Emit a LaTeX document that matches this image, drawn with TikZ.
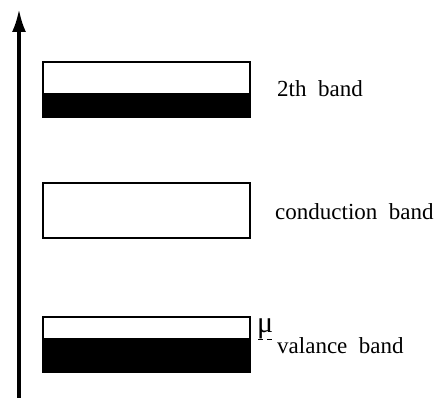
\documentclass[tikz,border=0pt]{standalone}
\usepackage{fontspec}
\setmainfont{Liberation Serif}
\usetikzlibrary{arrows.meta,calc}
\begin{document}
\begin{tikzpicture}[x=1pt,y=1pt,
  bandbox/.style={draw=black,line width=2pt,rectangle,inner sep=0pt,outer sep=0pt,minimum width=207pt,minimum height=55pt},
  lbl/.style={anchor=base west,inner sep=0pt,font=\fontsize{23}{26}\selectfont},
  axisline/.style={line width=3.5pt,-{Latex[length=23pt,width=14pt]}},
  fermi/.style={line width=1pt,dash pattern=on 4.5pt off 4.5pt}]
\useasboundingbox (0,0) rectangle (441,398);
% energy axis
\coordinate (axbot) at (19,0);
\coordinate (axtop) at (19,389);
\draw[axisline] (axbot) -- (axtop);
% bands
\node[bandbox] (b2) at (146.5,308.5) {};
\fill (b2.south west) rectangle ($(b2.south east)+(0,24)$);
\node[bandbox] (cb) at (146.5,187.5) {};
\node[bandbox] (vb) at (146.5,53) {};
\fill (vb.south west) rectangle ($(vb.south east)+(0,34)$);
% Fermi level
\coordinate (mustart) at ($(vb.south east)+(8,33)$);
\coordinate (muend) at ($(mustart)+(15,0)$);
\draw[fermi] (mustart) -- (muend);
% labels
\node[lbl] (l2) at (277,301) {2th~~band};
\node[lbl] (lc) at (275,178) {conduction~~band};
\node[lbl] (lv) at (277,44) {valance~~band};
\node[lbl,font=\fontsize{30}{32}\selectfont] (mu) at (257,65) {μ};
\end{tikzpicture}
\end{document}
